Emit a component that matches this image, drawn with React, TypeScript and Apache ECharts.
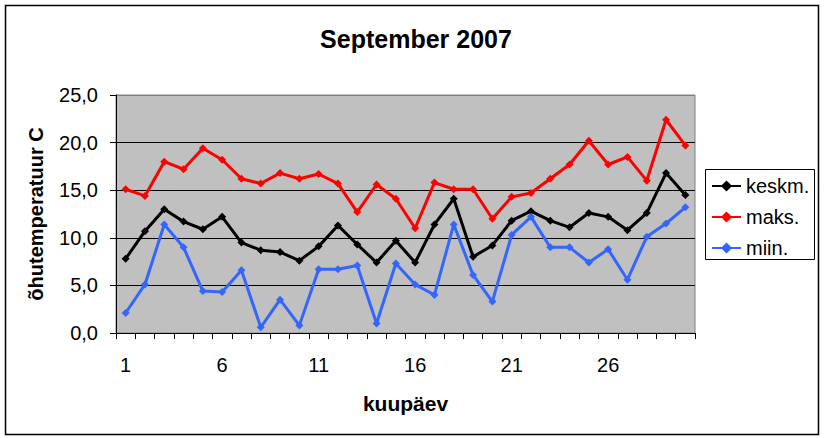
import React, { useEffect, useRef } from "react";
import * as echarts from "echarts";

const days = Array.from({ length: 30 }, (_, i) => String(i + 1));
const keskm = [7.8, 10.7, 13.0, 11.7, 10.9, 12.2, 9.5, 8.7, 8.5, 7.6, 9.1, 11.3, 9.3, 7.4, 9.7, 7.4, 11.4, 14.1, 8.0, 9.2, 11.8, 12.8, 11.8, 11.1, 12.6, 12.2, 10.8, 12.6, 16.8, 14.5];
const maks = [15.1, 14.4, 18.0, 17.2, 19.4, 18.2, 16.2, 15.7, 16.8, 16.2, 16.7, 15.7, 12.7, 15.6, 14.1, 11.0, 15.8, 15.1, 15.1, 12.0, 14.3, 14.7, 16.2, 17.7, 20.2, 17.7, 18.5, 16.0, 22.4, 19.7];
const miin = [2.1, 5.1, 11.4, 9.0, 4.4, 4.3, 6.6, 0.6, 3.5, 0.8, 6.7, 6.7, 7.1, 1.0, 7.3, 5.1, 4.0, 11.4, 6.1, 3.3, 10.3, 12.2, 9.0, 9.0, 7.4, 8.8, 5.6, 10.1, 11.5, 13.2];
const seriesNames = ["keskm.", "maks.", "miin."];
const seriesColors = ["#000000", "#FF0000", "#3366FF"];

const FONT = "'Liberation Sans', Arial, sans-serif";

export default function App() {
  const ref = useRef<HTMLDivElement>(null);
  useEffect(() => {
    document.body.style.margin = "0";
    const chart = echarts.init(ref.current!, null, { renderer: "svg" });
    const mk = (name: string, data: number[], color: string) => ({
      name,
      type: "line",
      data,
      symbol: "diamond",
      symbolSize: 8,
      lineStyle: { color, width: 3 },
      itemStyle: { color },
    });
    chart.setOption({
      animation: false,
      backgroundColor: "#ffffff",
      textStyle: { fontFamily: FONT },
      title: {
        text: "September 2007",
        left: 411,
        top: 21,
        textAlign: "center",
        textStyle: { fontFamily: FONT, fontWeight: "bold", fontSize: 25, color: "#000" },
      },
      graphic: [
        {
          type: "rect",
          shape: { x: 5.5, y: 5.5, width: 813, height: 429 },
          style: { fill: "none", stroke: "#000", lineWidth: 1.5 },
          z: -1,
        },
        {
          type: "rect",
          shape: { x: 705.5, y: 169.5, width: 109, height: 90 },
          style: { fill: "#fff", stroke: "#000", lineWidth: 1 },
          z: 0,
        },
      ],
      legend: {
        orient: "vertical",
        left: 711,
        top: 176,
        padding: 0,
        itemWidth: 29,
        itemHeight: 14,
        itemGap: 11,
        z: 10,
        textStyle: { fontFamily: FONT, fontSize: 20, color: "#000", lineHeight: 20 },
        data: seriesNames,
      },
      grid: {
        left: 116,
        top: 95,
        right: 130,
        bottom: 105,
        show: true,
        backgroundColor: "#C0C0C0",
        borderColor: "#808080",
        borderWidth: 1,
      },
      xAxis: {
        type: "category",
        data: days,
        boundaryGap: true,
        name: "kuupäev",
        nameLocation: "middle",
        nameGap: 60,
        nameTextStyle: { fontFamily: FONT, fontWeight: "bold", fontSize: 21, color: "#000" },
        axisLine: { lineStyle: { color: "#000", width: 1 } },
        axisTick: { show: true, interval: 0, length: 6, lineStyle: { color: "#000" } },
        axisLabel: { interval: 4, margin: 22, fontFamily: FONT, fontSize: 20, color: "#000" },
        splitLine: { show: false },
      },
      yAxis: {
        type: "value",
        min: 0,
        max: 25,
        interval: 5,
        name: "õhutemperatuur C",
        nameLocation: "middle",
        nameGap: 70,
        nameTextStyle: { fontFamily: FONT, fontWeight: "bold", fontSize: 20, color: "#000" },
        axisLine: { show: true, lineStyle: { color: "#000", width: 1 } },
        axisTick: { show: true, length: 6, lineStyle: { color: "#000" } },
        axisLabel: {
          margin: 18,
          fontFamily: FONT,
          fontSize: 20,
          color: "#000",
          formatter: (v: number) => v.toFixed(1).replace(".", ","),
        },
        splitLine: {
          show: true,
          lineStyle: { color: ["#000", "#000", "#000", "#000", "#000", "#808080"], width: 1 },
        },
      },
      series: [
        mk(seriesNames[0], keskm, seriesColors[0]),
        mk(seriesNames[1], maks, seriesColors[1]),
        mk(seriesNames[2], miin, seriesColors[2]),
      ],
    });
    return () => chart.dispose();
  }, []);
  return <div ref={ref} style={{ width: 825, height: 438 }} />;
}
